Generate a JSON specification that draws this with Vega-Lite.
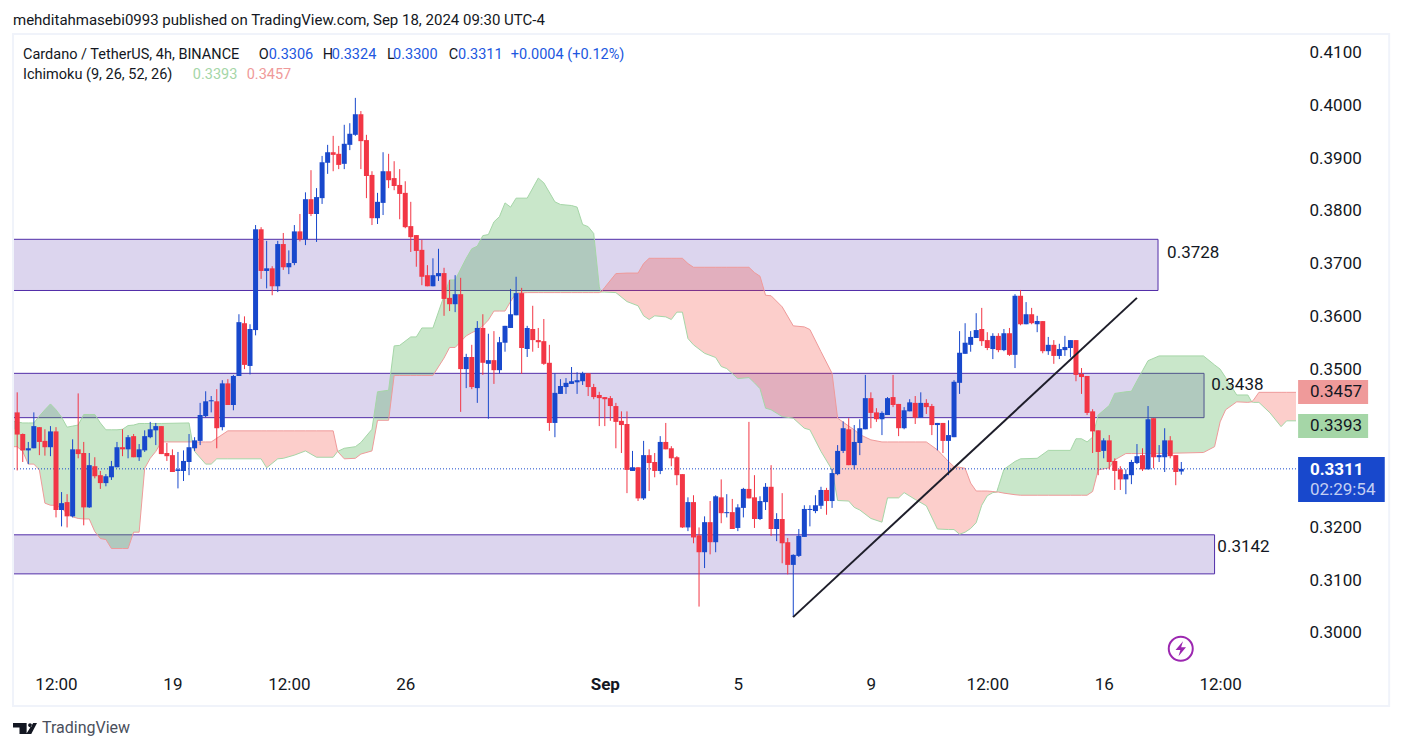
{
"$schema":"https://vega.github.io/schema/vega-lite/v6.json",
"width":1282,"height":633,"autosize":"none",
"padding":{"left":14,"top":35,"right":106,"bottom":82},
"background":"#ffffff",
"view":{"stroke":null},
"title":{"text":"mehditahmasebi0993 published on TradingView.com, Sep 18, 2024 09:30 UTC-4","anchor":"start","frame":"group","font":"Roboto","fontSize":15,"fontWeight":"normal","color":"#131722","offset":5,"dx":-1},
"config":{"axis":{"labelFont":"Roboto","labelFontSize":17,"labelColor":"#131722"},"text":{"font":"Roboto"},"scale":{"continuousPadding":0}},
"resolve":{"axis":{"x":"independent","y":"independent"}},
"datasets":{
"candles":[
{"i":-1,"o":0.3386,"h":0.3429,"l":0.3378,"c":0.3418},
{"i":0,"o":0.3418,"h":0.3456,"l":0.3308,"c":0.3376},
{"i":1,"o":0.3377,"h":0.3378,"l":0.3324,"c":0.3346},
{"i":2,"o":0.3346,"h":0.3362,"l":0.3320,"c":0.3350},
{"i":3,"o":0.3350,"h":0.3418,"l":0.3350,"c":0.3392},
{"i":4,"o":0.3390,"h":0.3390,"l":0.3337,"c":0.3362},
{"i":5,"o":0.3364,"h":0.3386,"l":0.3336,"c":0.3352},
{"i":6,"o":0.3352,"h":0.3392,"l":0.3335,"c":0.3382},
{"i":7,"o":0.3382,"h":0.3390,"l":0.3219,"c":0.3233},
{"i":8,"o":0.3233,"h":0.3267,"l":0.3202,"c":0.3246},
{"i":9,"o":0.3248,"h":0.3263,"l":0.3200,"c":0.3221},
{"i":10,"o":0.3221,"h":0.3367,"l":0.3219,"c":0.3348},
{"i":11,"o":0.3348,"h":0.3454,"l":0.3331,"c":0.3339},
{"i":12,"o":0.3341,"h":0.3362,"l":0.3204,"c":0.3238},
{"i":13,"o":0.3238,"h":0.3341,"l":0.3237,"c":0.3318},
{"i":14,"o":0.3316,"h":0.3333,"l":0.3293,"c":0.3297},
{"i":15,"o":0.3299,"h":0.3307,"l":0.3273,"c":0.3284},
{"i":16,"o":0.3284,"h":0.3301,"l":0.3278,"c":0.3297},
{"i":17,"o":0.3295,"h":0.3326,"l":0.3290,"c":0.3316},
{"i":18,"o":0.3314,"h":0.3362,"l":0.3314,"c":0.3352},
{"i":19,"o":0.3352,"h":0.3386,"l":0.3335,"c":0.3348},
{"i":20,"o":0.3348,"h":0.3375,"l":0.3331,"c":0.3371},
{"i":21,"o":0.3373,"h":0.3377,"l":0.3333,"c":0.3333},
{"i":22,"o":0.3333,"h":0.3358,"l":0.3326,"c":0.3348},
{"i":23,"o":0.3346,"h":0.3384,"l":0.3343,"c":0.3373},
{"i":24,"o":0.3371,"h":0.3400,"l":0.3369,"c":0.3386},
{"i":25,"o":0.3384,"h":0.3398,"l":0.3356,"c":0.3392},
{"i":26,"o":0.3392,"h":0.3392,"l":0.3339,"c":0.3339},
{"i":27,"o":0.3341,"h":0.3360,"l":0.3326,"c":0.3335},
{"i":28,"o":0.3337,"h":0.3348,"l":0.3305,"c":0.3305},
{"i":29,"o":0.3307,"h":0.3343,"l":0.3274,"c":0.3310},
{"i":30,"o":0.3307,"h":0.3346,"l":0.3288,"c":0.3326},
{"i":31,"o":0.3324,"h":0.3377,"l":0.3299,"c":0.3352},
{"i":32,"o":0.3350,"h":0.3371,"l":0.3345,"c":0.3365},
{"i":33,"o":0.3364,"h":0.3436,"l":0.3356,"c":0.3413},
{"i":34,"o":0.3411,"h":0.3458,"l":0.3409,"c":0.3439},
{"i":35,"o":0.3439,"h":0.3449,"l":0.3418,"c":0.3441},
{"i":36,"o":0.3439,"h":0.3462,"l":0.3350,"c":0.3388},
{"i":37,"o":0.3390,"h":0.3479,"l":0.3384,"c":0.3473},
{"i":38,"o":0.3473,"h":0.3481,"l":0.3432,"c":0.3432},
{"i":39,"o":0.3432,"h":0.3489,"l":0.3422,"c":0.3487},
{"i":40,"o":0.3487,"h":0.3604,"l":0.3487,"c":0.3589},
{"i":41,"o":0.3587,"h":0.3600,"l":0.3500,"c":0.3508},
{"i":42,"o":0.3506,"h":0.3585,"l":0.3490,"c":0.3576},
{"i":43,"o":0.3574,"h":0.3773,"l":0.3564,"c":0.3765},
{"i":44,"o":0.3765,"h":0.3769,"l":0.3671,"c":0.3686},
{"i":45,"o":0.3686,"h":0.3743,"l":0.3653,"c":0.3691},
{"i":46,"o":0.3691,"h":0.3695,"l":0.3640,"c":0.3657},
{"i":47,"o":0.3657,"h":0.3743,"l":0.3646,"c":0.3737},
{"i":48,"o":0.3737,"h":0.3758,"l":0.3688,"c":0.3693},
{"i":49,"o":0.3693,"h":0.3725,"l":0.3680,"c":0.3701},
{"i":50,"o":0.3701,"h":0.3773,"l":0.3697,"c":0.3761},
{"i":51,"o":0.3761,"h":0.3794,"l":0.3742,"c":0.3746},
{"i":52,"o":0.3746,"h":0.3835,"l":0.3735,"c":0.3822},
{"i":53,"o":0.3822,"h":0.3877,"l":0.3790,"c":0.3794},
{"i":54,"o":0.3794,"h":0.3843,"l":0.3741,"c":0.3826},
{"i":55,"o":0.3824,"h":0.3904,"l":0.3813,"c":0.3892},
{"i":56,"o":0.3891,"h":0.3925,"l":0.3870,"c":0.3911},
{"i":57,"o":0.3911,"h":0.3942,"l":0.3875,"c":0.3906},
{"i":58,"o":0.3908,"h":0.3923,"l":0.3879,"c":0.3887},
{"i":59,"o":0.3889,"h":0.3963,"l":0.3879,"c":0.3927},
{"i":60,"o":0.3925,"h":0.3966,"l":0.3915,"c":0.3946},
{"i":61,"o":0.3944,"h":0.4014,"l":0.3942,"c":0.3983},
{"i":62,"o":0.3983,"h":0.3989,"l":0.3879,"c":0.3932},
{"i":63,"o":0.3934,"h":0.3944,"l":0.3824,"c":0.3866},
{"i":64,"o":0.3868,"h":0.3875,"l":0.3773,"c":0.3786},
{"i":65,"o":0.3786,"h":0.3834,"l":0.3775,"c":0.3817},
{"i":66,"o":0.3815,"h":0.3911,"l":0.3792,"c":0.3875},
{"i":67,"o":0.3875,"h":0.3908,"l":0.3843,"c":0.3858},
{"i":68,"o":0.3862,"h":0.3894,"l":0.3839,"c":0.3847},
{"i":69,"o":0.3849,"h":0.3879,"l":0.3784,"c":0.3832},
{"i":70,"o":0.3834,"h":0.3856,"l":0.3767,"c":0.3769},
{"i":71,"o":0.3771,"h":0.3817,"l":0.3722,"c":0.3750},
{"i":72,"o":0.3754,"h":0.3754,"l":0.3694,"c":0.3724},
{"i":73,"o":0.3726,"h":0.3745,"l":0.3659,"c":0.3675},
{"i":74,"o":0.3678,"h":0.3697,"l":0.3657,"c":0.3657},
{"i":75,"o":0.3657,"h":0.3710,"l":0.3657,"c":0.3678},
{"i":76,"o":0.3676,"h":0.3728,"l":0.3667,"c":0.3682},
{"i":77,"o":0.3682,"h":0.3692,"l":0.3601,"c":0.3633},
{"i":78,"o":0.3635,"h":0.3669,"l":0.3610,"c":0.3623},
{"i":79,"o":0.3623,"h":0.3678,"l":0.3608,"c":0.3642},
{"i":80,"o":0.3642,"h":0.3673,"l":0.3419,"c":0.3500},
{"i":81,"o":0.3500,"h":0.3529,"l":0.3464,"c":0.3523},
{"i":82,"o":0.3523,"h":0.3546,"l":0.3462,"c":0.3466},
{"i":83,"o":0.3464,"h":0.3591,"l":0.3436,"c":0.3578},
{"i":84,"o":0.3578,"h":0.3604,"l":0.3489,"c":0.3512},
{"i":85,"o":0.3510,"h":0.3567,"l":0.3406,"c":0.3517},
{"i":86,"o":0.3517,"h":0.3572,"l":0.3472,"c":0.3498},
{"i":87,"o":0.3498,"h":0.3561,"l":0.3492,"c":0.3551},
{"i":88,"o":0.3550,"h":0.3582,"l":0.3533,"c":0.3582},
{"i":89,"o":0.3578,"h":0.3652,"l":0.3578,"c":0.3604},
{"i":90,"o":0.3602,"h":0.3675,"l":0.3602,"c":0.3644},
{"i":91,"o":0.3644,"h":0.3654,"l":0.3491,"c":0.3540},
{"i":92,"o":0.3538,"h":0.3582,"l":0.3523,"c":0.3578},
{"i":93,"o":0.3576,"h":0.3620,"l":0.3533,"c":0.3555},
{"i":94,"o":0.3555,"h":0.3578,"l":0.3540,"c":0.3551},
{"i":95,"o":0.3553,"h":0.3595,"l":0.3508,"c":0.3510},
{"i":96,"o":0.3512,"h":0.3546,"l":0.3383,"c":0.3398},
{"i":97,"o":0.3398,"h":0.3492,"l":0.3371,"c":0.3455},
{"i":98,"o":0.3453,"h":0.3481,"l":0.3453,"c":0.3468},
{"i":99,"o":0.3466,"h":0.3483,"l":0.3453,"c":0.3474},
{"i":100,"o":0.3472,"h":0.3504,"l":0.3472,"c":0.3477},
{"i":101,"o":0.3475,"h":0.3494,"l":0.3453,"c":0.3479},
{"i":102,"o":0.3477,"h":0.3495,"l":0.3470,"c":0.3492},
{"i":103,"o":0.3492,"h":0.3492,"l":0.3449,"c":0.3466},
{"i":104,"o":0.3466,"h":0.3472,"l":0.3443,"c":0.3447},
{"i":105,"o":0.3451,"h":0.3457,"l":0.3392,"c":0.3445},
{"i":106,"o":0.3447,"h":0.3447,"l":0.3392,"c":0.3443},
{"i":107,"o":0.3445,"h":0.3449,"l":0.3402,"c":0.3430},
{"i":108,"o":0.3430,"h":0.3436,"l":0.3350,"c":0.3400},
{"i":109,"o":0.3402,"h":0.3420,"l":0.3341,"c":0.3394},
{"i":110,"o":0.3396,"h":0.3420,"l":0.3265,"c":0.3309},
{"i":111,"o":0.3307,"h":0.3345,"l":0.3307,"c":0.3314},
{"i":112,"o":0.3314,"h":0.3314,"l":0.3250,"c":0.3255},
{"i":113,"o":0.3255,"h":0.3364,"l":0.3252,"c":0.3337},
{"i":114,"o":0.3337,"h":0.3348,"l":0.3269,"c":0.3322},
{"i":115,"o":0.3324,"h":0.3341,"l":0.3295,"c":0.3307},
{"i":116,"o":0.3307,"h":0.3373,"l":0.3301,"c":0.3362},
{"i":117,"o":0.3362,"h":0.3398,"l":0.3348,"c":0.3348},
{"i":118,"o":0.3350,"h":0.3354,"l":0.3316,"c":0.3331},
{"i":119,"o":0.3333,"h":0.3335,"l":0.3280,"c":0.3299},
{"i":120,"o":0.3301,"h":0.3301,"l":0.3199,"c":0.3200},
{"i":121,"o":0.3200,"h":0.3257,"l":0.3193,"c":0.3248},
{"i":122,"o":0.3248,"h":0.3261,"l":0.3170,"c":0.3181},
{"i":123,"o":0.3185,"h":0.3200,"l":0.3050,"c":0.3153},
{"i":124,"o":0.3153,"h":0.3221,"l":0.3123,"c":0.3210},
{"i":125,"o":0.3210,"h":0.3250,"l":0.3149,"c":0.3172},
{"i":126,"o":0.3172,"h":0.3261,"l":0.3153,"c":0.3259},
{"i":127,"o":0.3257,"h":0.3291,"l":0.3208,"c":0.3227},
{"i":128,"o":0.3227,"h":0.3263,"l":0.3219,"c":0.3229},
{"i":129,"o":0.3229,"h":0.3254,"l":0.3197,"c":0.3197},
{"i":130,"o":0.3199,"h":0.3244,"l":0.3193,"c":0.3238},
{"i":131,"o":0.3237,"h":0.3275,"l":0.3219,"c":0.3273},
{"i":132,"o":0.3273,"h":0.3400,"l":0.3255,"c":0.3255},
{"i":133,"o":0.3257,"h":0.3299,"l":0.3199,"c":0.3216},
{"i":134,"o":0.3216,"h":0.3259,"l":0.3214,"c":0.3250},
{"i":135,"o":0.3248,"h":0.3284,"l":0.3233,"c":0.3277},
{"i":136,"o":0.3277,"h":0.3318,"l":0.3184,"c":0.3197},
{"i":137,"o":0.3197,"h":0.3227,"l":0.3174,"c":0.3216},
{"i":138,"o":0.3216,"h":0.3265,"l":0.3132,"c":0.3170},
{"i":139,"o":0.3172,"h":0.3180,"l":0.3111,"c":0.3129},
{"i":140,"o":0.3129,"h":0.3149,"l":0.3031,"c":0.3148},
{"i":141,"o":0.3146,"h":0.3197,"l":0.3144,"c":0.3184},
{"i":142,"o":0.3182,"h":0.3242,"l":0.3182,"c":0.3235},
{"i":143,"o":0.3233,"h":0.3242,"l":0.3202,"c":0.3235},
{"i":144,"o":0.3231,"h":0.3261,"l":0.3227,"c":0.3242},
{"i":145,"o":0.3241,"h":0.3277,"l":0.3235,"c":0.3271},
{"i":146,"o":0.3271,"h":0.3275,"l":0.3224,"c":0.3250},
{"i":147,"o":0.3250,"h":0.3311,"l":0.3237,"c":0.3303},
{"i":148,"o":0.3301,"h":0.3356,"l":0.3299,"c":0.3345},
{"i":149,"o":0.3345,"h":0.3401,"l":0.3341,"c":0.3388},
{"i":150,"o":0.3386,"h":0.3407,"l":0.3318,"c":0.3318},
{"i":151,"o":0.3318,"h":0.3394,"l":0.3310,"c":0.3362},
{"i":152,"o":0.3360,"h":0.3405,"l":0.3337,"c":0.3388},
{"i":153,"o":0.3386,"h":0.3489,"l":0.3386,"c":0.3445},
{"i":154,"o":0.3445,"h":0.3456,"l":0.3388,"c":0.3417},
{"i":155,"o":0.3418,"h":0.3426,"l":0.3400,"c":0.3405},
{"i":156,"o":0.3405,"h":0.3420,"l":0.3375,"c":0.3417},
{"i":157,"o":0.3413,"h":0.3447,"l":0.3413,"c":0.3445},
{"i":158,"o":0.3447,"h":0.3489,"l":0.3428,"c":0.3432},
{"i":159,"o":0.3434,"h":0.3434,"l":0.3373,"c":0.3388},
{"i":160,"o":0.3388,"h":0.3428,"l":0.3386,"c":0.3422},
{"i":161,"o":0.3420,"h":0.3443,"l":0.3420,"c":0.3437},
{"i":162,"o":0.3436,"h":0.3449,"l":0.3396,"c":0.3408},
{"i":163,"o":0.3408,"h":0.3456,"l":0.3408,"c":0.3436},
{"i":164,"o":0.3436,"h":0.3443,"l":0.3415,"c":0.3428},
{"i":165,"o":0.3430,"h":0.3434,"l":0.3375,"c":0.3394},
{"i":166,"o":0.3394,"h":0.3398,"l":0.3346,"c":0.3398},
{"i":167,"o":0.3398,"h":0.3398,"l":0.3341,"c":0.3364},
{"i":168,"o":0.3364,"h":0.3403,"l":0.3299,"c":0.3375},
{"i":169,"o":0.3371,"h":0.3479,"l":0.3371,"c":0.3476},
{"i":170,"o":0.3474,"h":0.3572,"l":0.3453,"c":0.3531},
{"i":171,"o":0.3529,"h":0.3587,"l":0.3529,"c":0.3550},
{"i":172,"o":0.3546,"h":0.3572,"l":0.3533,"c":0.3561},
{"i":173,"o":0.3559,"h":0.3606,"l":0.3559,"c":0.3574},
{"i":174,"o":0.3576,"h":0.3616,"l":0.3544,"c":0.3553},
{"i":175,"o":0.3555,"h":0.3570,"l":0.3536,"c":0.3540},
{"i":176,"o":0.3538,"h":0.3568,"l":0.3519,"c":0.3563},
{"i":177,"o":0.3563,"h":0.3568,"l":0.3532,"c":0.3536},
{"i":178,"o":0.3536,"h":0.3576,"l":0.3534,"c":0.3568},
{"i":179,"o":0.3568,"h":0.3578,"l":0.3525,"c":0.3527},
{"i":180,"o":0.3527,"h":0.3642,"l":0.3502,"c":0.3639},
{"i":181,"o":0.3639,"h":0.3650,"l":0.3583,"c":0.3585},
{"i":182,"o":0.3585,"h":0.3627,"l":0.3585,"c":0.3604},
{"i":183,"o":0.3604,"h":0.3616,"l":0.3585,"c":0.3587},
{"i":184,"o":0.3585,"h":0.3601,"l":0.3570,"c":0.3591},
{"i":185,"o":0.3591,"h":0.3591,"l":0.3530,"c":0.3534},
{"i":186,"o":0.3534,"h":0.3561,"l":0.3527,"c":0.3546},
{"i":187,"o":0.3546,"h":0.3555,"l":0.3510,"c":0.3525},
{"i":188,"o":0.3525,"h":0.3548,"l":0.3519,"c":0.3538},
{"i":189,"o":0.3536,"h":0.3563,"l":0.3525,"c":0.3542},
{"i":190,"o":0.3540,"h":0.3555,"l":0.3522,"c":0.3555},
{"i":191,"o":0.3555,"h":0.3555,"l":0.3477,"c":0.3489},
{"i":192,"o":0.3491,"h":0.3502,"l":0.3453,"c":0.3485},
{"i":193,"o":0.3487,"h":0.3487,"l":0.3413,"c":0.3417},
{"i":194,"o":0.3420,"h":0.3424,"l":0.3341,"c":0.3382},
{"i":195,"o":0.3384,"h":0.3384,"l":0.3299,"c":0.3343},
{"i":196,"o":0.3345,"h":0.3369,"l":0.3331,"c":0.3365},
{"i":197,"o":0.3365,"h":0.3375,"l":0.3310,"c":0.3324},
{"i":198,"o":0.3326,"h":0.3331,"l":0.3271,"c":0.3307},
{"i":199,"o":0.3310,"h":0.3316,"l":0.3271,"c":0.3291},
{"i":200,"o":0.3291,"h":0.3310,"l":0.3263,"c":0.3301},
{"i":201,"o":0.3299,"h":0.3328,"l":0.3282,"c":0.3324},
{"i":202,"o":0.3322,"h":0.3358,"l":0.3320,"c":0.3335},
{"i":203,"o":0.3337,"h":0.3350,"l":0.3307,"c":0.3310},
{"i":204,"o":0.3310,"h":0.3430,"l":0.3310,"c":0.3405},
{"i":205,"o":0.3407,"h":0.3407,"l":0.3312,"c":0.3333},
{"i":206,"o":0.3333,"h":0.3356,"l":0.3324,"c":0.3337},
{"i":207,"o":0.3333,"h":0.3388,"l":0.3305,"c":0.3365},
{"i":208,"o":0.3365,"h":0.3373,"l":0.3331,"c":0.3335},
{"i":209,"o":0.3337,"h":0.3337,"l":0.3280,"c":0.3305},
{"i":210,"o":0.3306,"h":0.3324,"l":0.3300,"c":0.3311}
],
"cloud":[
{"s":1,"i":-1,"a":0.3401,"b":0.3353},{"s":1,"i":0,"a":0.3400,"b":0.3353},{"s":1,"i":1,"a":0.3398,"b":0.3344},{"s":1,"i":2,"a":0.3398,"b":0.3320},{"s":1,"i":3,"a":0.3398,"b":0.3320},{"s":1,"i":4,"a":0.3411,"b":0.3309},{"s":1,"i":5,"a":0.3423,"b":0.3246},{"s":1,"i":6,"a":0.3434,"b":0.3242},{"s":1,"i":7,"a":0.3423,"b":0.3242},{"s":1,"i":8,"a":0.3409,"b":0.3236},{"s":1,"i":9,"a":0.3390,"b":0.3227},{"s":1,"i":10,"a":0.3392,"b":0.3220},{"s":1,"i":11,"a":0.3394,"b":0.3217},{"s":1,"i":12,"a":0.3414,"b":0.3216},{"s":1,"i":13,"a":0.3414,"b":0.3216},{"s":1,"i":14,"a":0.3414,"b":0.3192},{"s":1,"i":15,"a":0.3398,"b":0.3179},{"s":1,"i":16,"a":0.3385,"b":0.3177},{"s":1,"i":17,"a":0.3385,"b":0.3160},{"s":1,"i":18,"a":0.3385,"b":0.3160},{"s":1,"i":19,"a":0.3386,"b":0.3160},{"s":1,"i":20,"a":0.3393,"b":0.3160},{"s":1,"i":21,"a":0.3394,"b":0.3191},{"s":1,"i":22,"a":0.3397,"b":0.3191},{"s":1,"i":23,"a":0.3397,"b":0.3312},{"s":1,"i":24,"a":0.3397,"b":0.3331},{"s":1,"i":25,"a":0.3397,"b":0.3344},{"s":1,"i":26,"a":0.3397,"b":0.3362},{"s":1,"i":31,"a":0.3398,"b":0.3362},{"s":1,"i":31.6,"a":0.3362,"b":0.3362},
{"s":2,"i":31.6,"a":0.3362,"b":0.3362},{"s":2,"i":32,"a":0.3344,"b":0.3362},{"s":2,"i":34,"a":0.3320,"b":0.3362},{"s":2,"i":35,"a":0.3320,"b":0.3362},{"s":2,"i":36,"a":0.3330,"b":0.3369},{"s":2,"i":38,"a":0.3330,"b":0.3383},{"s":2,"i":44,"a":0.3330,"b":0.3383},{"s":2,"i":45,"a":0.3313,"b":0.3383},{"s":2,"i":47,"a":0.3330,"b":0.3383},{"s":2,"i":48,"a":0.3331,"b":0.3383},{"s":2,"i":50,"a":0.3337,"b":0.3383},{"s":2,"i":52,"a":0.3345,"b":0.3383},{"s":2,"i":54,"a":0.3333,"b":0.3383},{"s":2,"i":57,"a":0.3333,"b":0.3383},{"s":2,"i":57.8,"a":0.3344,"b":0.3344},
{"s":3,"i":57.8,"a":0.3344,"b":0.3344},{"s":3,"i":59,"a":0.3350,"b":0.3330},{"s":3,"i":61,"a":0.3353,"b":0.3331},{"s":3,"i":62,"a":0.3361,"b":0.3339},{"s":3,"i":64,"a":0.3386,"b":0.3345},{"s":3,"i":65,"a":0.3457,"b":0.3403},{"s":3,"i":67,"a":0.3460,"b":0.3403},{"s":3,"i":68,"a":0.3544,"b":0.3488},{"s":3,"i":69,"a":0.3545,"b":0.3488},{"s":3,"i":71,"a":0.3561,"b":0.3488},{"s":3,"i":72,"a":0.3561,"b":0.3488},{"s":3,"i":73,"a":0.3578,"b":0.3488},{"s":3,"i":75,"a":0.3578,"b":0.3488},{"s":3,"i":77,"a":0.3639,"b":0.3521},{"s":3,"i":78,"a":0.3669,"b":0.3541},{"s":3,"i":79,"a":0.3669,"b":0.3541},{"s":3,"i":81,"a":0.3710,"b":0.3563},{"s":3,"i":82,"a":0.3728,"b":0.3569},{"s":3,"i":83,"a":0.3733,"b":0.3574},{"s":3,"i":84,"a":0.3753,"b":0.3582},{"s":3,"i":85,"a":0.3755,"b":0.3593},{"s":3,"i":86,"a":0.3779,"b":0.3610},{"s":3,"i":87,"a":0.3789,"b":0.3610},{"s":3,"i":88,"a":0.3815,"b":0.3610},{"s":3,"i":89,"a":0.3807,"b":0.3628},{"s":3,"i":90,"a":0.3824,"b":0.3644},{"s":3,"i":92,"a":0.3824,"b":0.3645},{"s":3,"i":94,"a":0.3862,"b":0.3645},{"s":3,"i":95,"a":0.3853,"b":0.3645},{"s":3,"i":97,"a":0.3817,"b":0.3645},{"s":3,"i":98,"a":0.3812,"b":0.3645},{"s":3,"i":100,"a":0.3810,"b":0.3645},{"s":3,"i":101,"a":0.3807,"b":0.3645},{"s":3,"i":102,"a":0.3774,"b":0.3645},{"s":3,"i":103,"a":0.3770,"b":0.3645},{"s":3,"i":104,"a":0.3757,"b":0.3645},{"s":3,"i":105,"a":0.3656,"b":0.3645},{"s":3,"i":105.3,"a":0.3646,"b":0.3646},
{"s":4,"i":105.3,"a":0.3646,"b":0.3646},{"s":4,"i":106,"a":0.3646,"b":0.3655},{"s":4,"i":108,"a":0.3645,"b":0.3681},{"s":4,"i":110,"a":0.3628,"b":0.3682},{"s":4,"i":112,"a":0.3620,"b":0.3682},{"s":4,"i":113,"a":0.3601,"b":0.3700},{"s":4,"i":114,"a":0.3594,"b":0.3710},{"s":4,"i":115,"a":0.3601,"b":0.3710},{"s":4,"i":117,"a":0.3599,"b":0.3710},{"s":4,"i":118,"a":0.3594,"b":0.3710},{"s":4,"i":119,"a":0.3608,"b":0.3710},{"s":4,"i":120,"a":0.3608,"b":0.3710},{"s":4,"i":121,"a":0.3558,"b":0.3700},{"s":4,"i":122,"a":0.3546,"b":0.3693},{"s":4,"i":124,"a":0.3530,"b":0.3693},{"s":4,"i":126,"a":0.3522,"b":0.3693},{"s":4,"i":127,"a":0.3505,"b":0.3693},{"s":4,"i":128,"a":0.3501,"b":0.3693},{"s":4,"i":130,"a":0.3482,"b":0.3693},{"s":4,"i":132,"a":0.3484,"b":0.3693},{"s":4,"i":133,"a":0.3474,"b":0.3683},{"s":4,"i":134,"a":0.3463,"b":0.3676},{"s":4,"i":135,"a":0.3426,"b":0.3640},{"s":4,"i":136,"a":0.3423,"b":0.3639},{"s":4,"i":138,"a":0.3410,"b":0.3618},{"s":4,"i":140,"a":0.3407,"b":0.3582},{"s":4,"i":142,"a":0.3388,"b":0.3580},{"s":4,"i":143,"a":0.3385,"b":0.3575},{"s":4,"i":145,"a":0.3344,"b":0.3533},{"s":4,"i":147,"a":0.3309,"b":0.3492},{"s":4,"i":148,"a":0.3251,"b":0.3407},{"s":4,"i":150,"a":0.3250,"b":0.3392},{"s":4,"i":151,"a":0.3238,"b":0.3385},{"s":4,"i":152,"a":0.3233,"b":0.3376},{"s":4,"i":154,"a":0.3217,"b":0.3366},{"s":4,"i":156,"a":0.3210,"b":0.3362},{"s":4,"i":157,"a":0.3256,"b":0.3362},{"s":4,"i":159,"a":0.3256,"b":0.3362},{"s":4,"i":160,"a":0.3266,"b":0.3362},{"s":4,"i":162,"a":0.3253,"b":0.3362},{"s":4,"i":164,"a":0.3241,"b":0.3362},{"s":4,"i":166,"a":0.3197,"b":0.3347},{"s":4,"i":168,"a":0.3196,"b":0.3325},{"s":4,"i":169,"a":0.3196,"b":0.3315},{"s":4,"i":170,"a":0.3187,"b":0.3314},{"s":4,"i":171,"a":0.3191,"b":0.3312},{"s":4,"i":172,"a":0.3198,"b":0.3284},{"s":4,"i":173,"a":0.3209,"b":0.3269},{"s":4,"i":174,"a":0.3242,"b":0.3269},{"s":4,"i":175,"a":0.3260,"b":0.3269},{"s":4,"i":176,"a":0.3266,"b":0.3268},{"s":4,"i":176.7,"a":0.3267,"b":0.3267},
{"s":5,"i":176.7,"a":0.3267,"b":0.3267},{"s":5,"i":177,"a":0.3277,"b":0.3267},{"s":5,"i":178,"a":0.3310,"b":0.3265},{"s":5,"i":180,"a":0.3325,"b":0.3262},{"s":5,"i":181,"a":0.3330,"b":0.3261},{"s":5,"i":184,"a":0.3331,"b":0.3261},{"s":5,"i":186,"a":0.3346,"b":0.3261},{"s":5,"i":190,"a":0.3346,"b":0.3261},{"s":5,"i":191,"a":0.3368,"b":0.3261},{"s":5,"i":192,"a":0.3368,"b":0.3261},{"s":5,"i":193,"a":0.3362,"b":0.3261},{"s":5,"i":194,"a":0.3371,"b":0.3268},{"s":5,"i":195,"a":0.3413,"b":0.3309},{"s":5,"i":197,"a":0.3431,"b":0.3313},{"s":5,"i":198,"a":0.3454,"b":0.3328},{"s":5,"i":200,"a":0.3457,"b":0.3340},{"s":5,"i":201,"a":0.3458,"b":0.3340},{"s":5,"i":203,"a":0.3497,"b":0.3340},{"s":5,"i":204,"a":0.3516,"b":0.3340},{"s":5,"i":206,"a":0.3525,"b":0.3340},{"s":5,"i":214,"a":0.3525,"b":0.3342},{"s":5,"i":216,"a":0.3508,"b":0.3353},{"s":5,"i":217,"a":0.3500,"b":0.3400},{"s":5,"i":218,"a":0.3484,"b":0.3423},{"s":5,"i":220,"a":0.3451,"b":0.3438},{"s":5,"i":222,"a":0.3451,"b":0.3437},{"s":5,"i":222.7,"a":0.3438,"b":0.3438},
{"s":6,"i":222.7,"a":0.3438,"b":0.3438},{"s":6,"i":223,"a":0.3437,"b":0.3441},{"s":6,"i":224,"a":0.3437,"b":0.3456},{"s":6,"i":226,"a":0.3417,"b":0.3456},{"s":6,"i":228,"a":0.3391,"b":0.3456},{"s":6,"i":229,"a":0.3402,"b":0.3456},{"s":6,"i":231,"a":0.3402,"b":0.3456}
],
"zones":[
{"i0":-5,"i1":205.8,"top":0.3746,"bot":0.3649},
{"i0":-5,"i1":214.1,"top":0.3492,"bot":0.3408},
{"i0":-5,"i1":216,"top":0.3186,"bot":0.3112}
],
"frame":[{"i0":-0.76,"i1":247.5,"top":0.41351,"bot":0.28616}],
"badges":[
{"i0":231.07,"i1":243.7,"top":0.34794,"bot":0.34339,"tone":"pink"},
{"i0":231.07,"i1":243.7,"top":0.34150,"bot":0.33695,"tone":"green"},
{"i0":231.07,"i1":246.7,"top":0.33335,"bot":0.32482,"tone":"blue"}
],
"trend":[{"i":139.96,"p":0.3030},{"i":202,"p":0.3635}],
"last":[{"p":0.3311}],
"icons":[{"what":"logo","i":1.41,"p":0.2819},{"what":"bolt","i":209.9,"p":0.2970}],
"notes":[
{"g":"legend","text":"Cardano / TetherUS, 4h, BINANCE","i":1.05,"p":0.40962,"tone":"ink"},
{"g":"legend","text":"O","i":43.57,"p":0.40962,"tone":"ink"},
{"g":"legend","text":"0.3306","i":45.37,"p":0.40962,"tone":"value"},
{"g":"legend","text":"H","i":55.1,"p":0.40962,"tone":"ink"},
{"g":"legend","text":"0.3324","i":56.74,"p":0.40962,"tone":"value"},
{"g":"legend","text":"L","i":66.7,"p":0.40962,"tone":"ink"},
{"g":"legend","text":"0.3300","i":67.8,"p":0.40962,"tone":"value"},
{"g":"legend","text":"C","i":77.83,"p":0.40962,"tone":"ink"},
{"g":"legend","text":"0.3311","i":79.52,"p":0.40962,"tone":"value"},
{"g":"legend","text":"+0.0004 (+0.12%)","i":89.05,"p":0.40962,"tone":"value"},
{"g":"legend","text":"Ichimoku (9, 26, 52, 26)","i":1.05,"p":0.40574,"tone":"ink"},
{"g":"legend","text":"0.3393","i":31.68,"p":0.40574,"tone":"green"},
{"g":"legend","text":"0.3457","i":41.4,"p":0.40574,"tone":"pink"},
{"g":"big","text":"0.3728","i":207.44,"p":0.3720,"tone":"ink"},
{"g":"big","text":"0.3438","i":215.4,"p":0.34699,"tone":"ink"},
{"g":"big","text":"0.3142","i":216.5,"p":0.31635,"tone":"ink"},
{"g":"big","text":"0.3457","i":233.2,"p":0.3457,"tone":"ink"},
{"g":"big","text":"0.3393","i":233.2,"p":0.3393,"tone":"ink"},
{"g":"big","text":"02:29:54","i":233.2,"p":0.3271,"tone":"soft"},
{"g":"bold","text":"0.3311","i":233.2,"p":0.3309,"tone":"white"},
{"g":"foot","text":"TradingView","i":4.47,"p":0.2820,"tone":"foot"}
]
},
"encoding":{
"x":{"field":"i","type":"quantitative","title":null,"scale":{"domain":[-0.5773,230.69],"nice":false,"zero":false,"padding":0},"axis":null}
},
"layer":[
{"data":{"name":"frame"},"mark":{"type":"rect","fill":null,"stroke":"#f0f3fa","strokeWidth":2},"encoding":{"x":{"field":"i0","type":"quantitative","title":null,"scale":{"domain":[-0.5773,230.69],"nice":false,"zero":false,"padding":0},"axis":{"values":[7,28,49,70,106,130,154,175,196,217],"labelExpr":"{'7':'12:00','28':'19','49':'12:00','70':'26','106':'Sep','130':'5','154':'9','175':'12:00','196':'16','217':'12:00'}[datum.value]","labelFontWeight":{"condition":{"test":"datum.value==106","value":"bold"},"value":"normal"},"ticks":false,"domain":false,"grid":false,"labelPadding":8,"labelFlush":false,"labelOverlap":false}},"x2":{"field":"i1"},"y":{"field":"top","type":"quantitative","title":null,"scale":{"domain":[0.293361,0.413316],"nice":false,"zero":false},"axis":{"orient":"right","values":[0.30,0.31,0.32,0.35,0.36,0.37,0.38,0.39,0.40,0.41],"format":".4f","ticks":false,"domain":false,"grid":false,"labelPadding":13,"labelOverlap":false,"labelFlush":false}},"y2":{"field":"bot"}}},
{"data":{"name":"zones"},"mark":{"type":"rect","clip":true,"fill":"#512da8","fillOpacity":0.2,"stroke":"#512da8","strokeWidth":1},"encoding":{"x":{"field":"i0","type":"quantitative","axis":null,"title":null},"x2":{"field":"i1"},"y":{"field":"top","type":"quantitative","title":null,"axis":null},"y2":{"field":"bot"}}},
{"data":{"name":"cloud"},"transform":[{"filter":"datum.s%2==1"}],"mark":{"type":"area","clip":true,"color":"#4caf50","opacity":0.3,"interpolate":"linear"},"encoding":{"detail":{"field":"s"},"y":{"field":"a","type":"quantitative","title":null,"axis":null},"y2":{"field":"b"}}},
{"data":{"name":"cloud"},"transform":[{"filter":"datum.s%2==0"}],"mark":{"type":"area","clip":true,"color":"#f44336","opacity":0.26,"interpolate":"linear"},"encoding":{"detail":{"field":"s"},"y":{"field":"a","type":"quantitative","title":null,"axis":null},"y2":{"field":"b"}}},
{"data":{"name":"cloud"},"mark":{"type":"line","clip":true,"color":"#a5d6a7","strokeWidth":1},"encoding":{"y":{"field":"a","type":"quantitative","title":null,"axis":null}}},
{"data":{"name":"cloud"},"mark":{"type":"line","clip":true,"color":"#ef9a9a","strokeWidth":1},"encoding":{"y":{"field":"b","type":"quantitative","title":null,"axis":null}}},
{"data":{"name":"last"},"mark":{"type":"rule","color":"#1848cc","strokeWidth":1,"strokeDash":[1,2]},"encoding":{"x":{"value":0},"x2":{"value":1282},"y":{"field":"p","type":"quantitative","title":null,"axis":null}}},
{"data":{"name":"candles"},"mark":{"type":"rule","clip":true,"strokeWidth":1},"encoding":{"y":{"field":"l","type":"quantitative","title":null,"axis":null},"y2":{"field":"h"},"color":{"condition":{"test":"datum.c>=datum.o","value":"#1848cc"},"value":"#f23645"}}},
{"data":{"name":"candles"},"mark":{"type":"bar","clip":true,"orient":"vertical","size":5},"encoding":{"y":{"field":"o","type":"quantitative","title":null,"axis":null},"y2":{"field":"c"},"color":{"condition":{"test":"datum.c>=datum.o","value":"#1848cc"},"value":"#f23645"}}},
{"data":{"name":"trend"},"mark":{"type":"line","color":"#1e1e2a","strokeWidth":2},"encoding":{"y":{"field":"p","type":"quantitative","title":null,"axis":null}}},
{"data":{"name":"badges"},"mark":{"type":"rect"},"encoding":{"x":{"field":"i0","type":"quantitative","axis":null,"title":null},"x2":{"field":"i1"},"y":{"field":"top","type":"quantitative","title":null,"axis":null},"y2":{"field":"bot"},"color":{"field":"tone","type":"nominal","legend":null,"scale":{"domain":["ink","value","green","pink","white","soft","foot","blue"],"range":["#131722","#2157e0","#a5d6a7","#ef9a9a","#ffffff","#c3cff2","#4a4f5c","#1848cc"]}}}},
{"data":{"name":"notes"},"transform":[{"filter":"datum.g=='legend'"}],"mark":{"type":"text","align":"left","baseline":"middle","fontSize":14.5},"encoding":{"y":{"field":"p","type":"quantitative","title":null,"axis":null},"text":{"field":"text"},"color":{"field":"tone","type":"nominal","legend":null}}},
{"data":{"name":"notes"},"transform":[{"filter":"datum.g=='big'"}],"mark":{"type":"text","align":"left","baseline":"middle","fontSize":17},"encoding":{"y":{"field":"p","type":"quantitative","title":null,"axis":null},"text":{"field":"text"},"color":{"field":"tone","type":"nominal","legend":null}}},
{"data":{"name":"notes"},"transform":[{"filter":"datum.g=='bold'"}],"mark":{"type":"text","align":"left","baseline":"middle","fontSize":17,"fontWeight":"bold"},"encoding":{"y":{"field":"p","type":"quantitative","title":null,"axis":null},"text":{"field":"text"},"color":{"field":"tone","type":"nominal","legend":null}}},
{"data":{"name":"notes"},"transform":[{"filter":"datum.g=='foot'"}],"mark":{"type":"text","align":"left","baseline":"middle","fontSize":16},"encoding":{"y":{"field":"p","type":"quantitative","title":null,"axis":null},"text":{"field":"text"},"color":{"field":"tone","type":"nominal","legend":null}}},
{"data":{"name":"icons"},"transform":[{"filter":"datum.what=='logo'"}],"mark":{"type":"point","filled":true,"opacity":1,"color":"#131722","size":576,"shape":"M-1,-0.46H0.135V0.46H-0.46V-0.08H-1ZM0.68,-0.46H1L0.52,0.46H0.1ZM0.26,-0.27a0.16,0.16 0 1,0 0.32,0a0.16,0.16 0 1,0 -0.32,0Z"},"encoding":{"y":{"field":"p","type":"quantitative","title":null,"axis":null}}},
{"data":{"name":"icons"},"transform":[{"filter":"datum.what=='bolt'"}],"mark":{"type":"point","filled":false,"opacity":1,"color":"#9c27b0","strokeWidth":2,"size":576,"shape":"circle"},"encoding":{"y":{"field":"p","type":"quantitative","title":null,"axis":null}}},
{"data":{"name":"icons"},"transform":[{"filter":"datum.what=='bolt'"}],"mark":{"type":"point","filled":true,"opacity":1,"color":"#9c27b0","size":225,"shape":"M0.3,-1L-0.7,0.15H-0.05L-0.3,1L0.7,-0.2H0.05Z"},"encoding":{"y":{"field":"p","type":"quantitative","title":null,"axis":null}}}
]
}
